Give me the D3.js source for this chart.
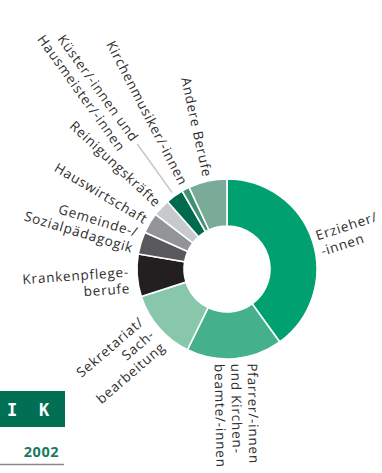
<!DOCTYPE html>
<html>
<head>
<meta charset="utf-8">
<script src="https://cdn.jsdelivr.net/npm/d3@7/dist/d3.min.js"></script>
<style>
  html, body { margin: 0; padding: 0; background: #fff; }
  svg { display: block; }
</style>
</head>
<body>
<svg id="chart" width="382" height="473"></svg>
<script>
// ---- data ----
const categories = [
  "Erzieher/-innen",
  "Pfarrer/-innen und Kirchenbeamte/-innen",
  "Sekretariat/Sachbearbeitung",
  "Krankenpflegeberufe",
  "Gemeinde-/Sozialpädagogik",
  "Hauswirtschaft",
  "Reinigungskräfte",
  "Küster/-innen und Hausmeister/-innen",
  "Kirchenmusiker/-innen",
  "Andere Berufe"
];
const values = [40.0, 17.2, 12.8, 7.6, 4.0, 3.7, 3.1, 3.2, 1.4, 6.9];
const labelLines = [
  ["Erzieher/", "-innen"],
  ["Pfarrer/-innen", "und Kirchen-", "beamte/-innen"],
  ["Sekretariat/", "Sach-", "bearbeitung"],
  ["Krankenpflege-", "berufe"],
  ["Gemeinde-/", "Sozialpädagogik"],
  ["Hauswirtschaft"],
  ["Reinigungskräfte"],
  ["Küster/-innen und", "Hausmeister/-innen"],
  ["Kirchenmusiker/-innen"],
  ["Andere Berufe"]
];
const colors = ["#00a070", "#45b08c", "#88c7ac", "#231f20", "#59595b",
                "#929497", "#c8c9cb", "#006a4e", "#3f9274", "#7aab99"];
const sideText = ["I", "K"];
const yearText = "2002";

// ---- layout (positions / styles) ----
const cx = 227, cy = 269, rOuter = 90, rInner = 43;
const labelLayout = [
  { r: 95, shift: 0.2 },
  { r: 95, shift: 1, rot: 89 },
  { r: 98, shift: 1 },
  { r: 98, shift: 0.2 },
  { r: 96, shift: 0.5 },
  { r: 94, shift: 0 },
  { r: 94, shift: 0 },
  { r: 158, shift: 0, leader: [94, 154] },
  { r: 95, shift: 0 },
  { r: 94, shift: 0 }
];
const lineH = 16.5;

const svg = d3.select("#chart");
const g = svg.append("g").attr("transform", `translate(${cx},${cy})`);

const pie = d3.pie().sort(null).value(d => d).startAngle(0).endAngle(2 * Math.PI);
const arcs = pie(values);
const arc = d3.arc().innerRadius(rInner).outerRadius(rOuter);

g.selectAll("path.seg")
  .data(arcs)
  .join("path")
  .attr("class", "seg")
  .attr("d", arc)
  .attr("fill", (d, i) => colors[i])
  .attr("stroke", "#fff")
  .attr("stroke-width", 1.6)
  .attr("stroke-linejoin", "miter");

const deg = r => r * 180 / Math.PI;

arcs.forEach((d, i) => {
  const a = (d.startAngle + d.endAngle) / 2;
  const L = labelLayout[i];
  const ad = deg(a);
  const right = ad < 180;
  const rot = L.rot !== undefined ? L.rot : (right ? ad - 90 : ad - 270);
  if (L.leader) {
    g.append("line")
      .attr("x1", L.leader[0] * Math.sin(a)).attr("y1", -L.leader[0] * Math.cos(a))
      .attr("x2", L.leader[1] * Math.sin(a)).attr("y2", -L.leader[1] * Math.cos(a))
      .attr("stroke", "#c6c6c6").attr("stroke-width", 1.6);
  }
  const px = L.r * Math.sin(a), py = -L.r * Math.cos(a);
  const t = g.append("text")
    .attr("transform", `translate(${px},${py}) rotate(${rot})`)
    .attr("text-anchor", right ? "start" : "end")
    .attr("font-family", "'Open Sans', 'Noto Sans', sans-serif")
    .attr("font-size", 13.5)
    .attr("letter-spacing", 0.8)
    .attr("fill", "#2e2e2e");
  labelLines[i].forEach((ln, j) => {
    t.append("tspan")
      .attr("x", 0)
      .attr("y", (j - L.shift) * lineH + 4)
      .text(ln);
  });
});

// ---- bottom-left box ----
svg.append("rect").attr("x", 0).attr("y", 391).attr("width", 65).attr("height", 36).attr("fill", "#006f53");
const boxX = d3.scalePoint().domain(sideText).range([12, 44]);
svg.selectAll("text.box")
  .data(sideText)
  .join("text")
  .attr("class", "box")
  .attr("x", d => boxX(d))
  .attr("y", 416)
  .attr("text-anchor", "middle")
  .attr("font-family", "'DejaVu Sans Mono', monospace")
  .attr("font-weight", "bold")
  .attr("font-size", 17)
  .attr("fill", "#fff")
  .text(d => d);

svg.append("text")
  .attr("x", 59).attr("y", 457)
  .attr("text-anchor", "end")
  .attr("font-family", "'Open Sans', sans-serif")
  .attr("font-weight", "bold")
  .attr("font-size", 14.5)
  .attr("letter-spacing", 0.5)
  .attr("fill", "#1b7a5e")
  .text(yearText);

svg.append("line")
  .attr("x1", 0).attr("x2", 64).attr("y1", 464.5).attr("y2", 464.5)
  .attr("stroke", "#8a8a8a").attr("stroke-width", 1.5);
</script>
</body>
</html>
